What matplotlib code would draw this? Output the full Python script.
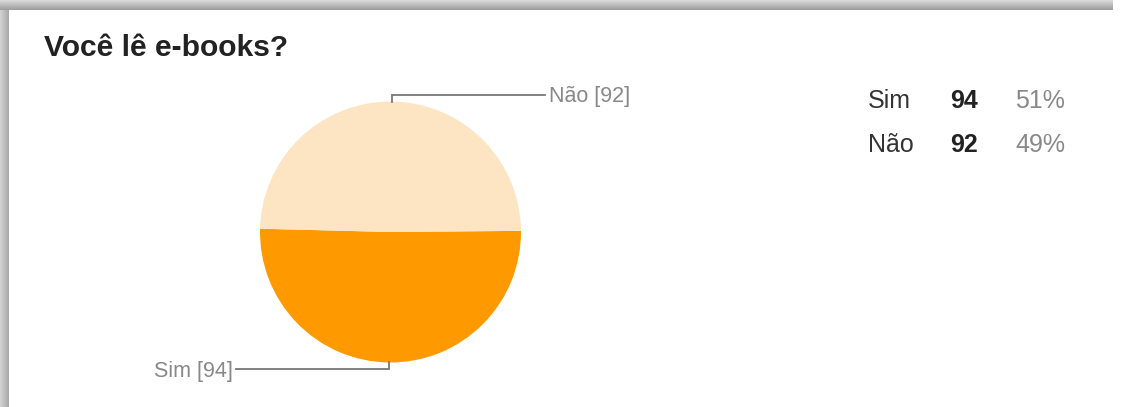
import matplotlib
matplotlib.use("Agg")
import matplotlib.pyplot as plt
import numpy as np

# survey data
title = "Você lê e-books?"
labels = ["Sim", "Não"]
counts = [94, 92]
colors = ["#FF9900", "#FDE5C3"]

W, H = 1121, 407
fig = plt.figure(figsize=(W / 100, H / 100), dpi=100)
ax = fig.add_axes([0, 0, 1, 1])
ax.set_xlim(0, W)
ax.set_ylim(0, H)
ax.set_aspect("equal")
ax.axis("off")

# shadow frame on the top and left edges
top = np.linspace(0.85, 0.62, 10).reshape(-1, 1)
ax.imshow(np.repeat(top, 2, axis=1), cmap="gray", vmin=0, vmax=1,
          extent=(0, W - 8, H - 10, H), aspect="auto", zorder=1)
left = np.linspace(0.82, 0.66, 9).reshape(1, -1)
ax.imshow(np.repeat(left, 2, axis=0), cmap="gray", vmin=0, vmax=1,
          extent=(0, 9, 0, H - 10), aspect="auto", zorder=1)

font = "Liberation Sans"
ax.text(44, H - 48, title, fontsize=21.6, fontweight="bold", family=font,
        color="#222222", va="center", ha="left")

# pie
cx, cy, R = 390.5, H - 232, 130.5
wedges, _ = ax.pie(counts, colors=colors, startangle=0.5, counterclock=False,
                   center=(cx, cy), radius=R, frame=True,
                   wedgeprops=dict(linewidth=0))
ax.set_xlim(0, W)
ax.set_ylim(0, H)
ax.axis("off")

# leader lines and slice labels
for w, lab, n in zip(wedges, labels, counts):
    mid = np.deg2rad((w.theta1 + w.theta2) / 2)
    x0 = cx + R * np.cos(mid)
    y0 = cy + R * np.sin(mid)
    side = 1 if np.sin(mid) > 0 else -1
    y1 = y0 + side * 7
    direction = 1 if side > 0 else -1
    x1 = x0 + direction * 153
    ax.plot([x0, x0, x1], [y0, y1, y1], color="#777777", lw=1.3,
            solid_joinstyle="miter", zorder=3)
    ax.text(x1 + direction * 4, y1 - 2, f"{lab} [{n}]", fontsize=15.5,
            family=font, color="#888888", va="center",
            ha="left" if direction > 0 else "right")

# summary table
total = sum(counts)
for i, (lab, n) in enumerate(zip(labels, counts)):
    y = H - 101 - i * 44
    ax.text(868, y, lab, fontsize=18, family=font, color="#333333", va="center")
    ax.text(950, y, str(n), fontsize=18, family=font, fontweight="bold",
            color="#222222", va="center")
    ax.text(1015, y, f"{round(100 * n / total)}%", fontsize=18, family=font,
            color="#888888", va="center")

fig.savefig("out.png", dpi=100)
